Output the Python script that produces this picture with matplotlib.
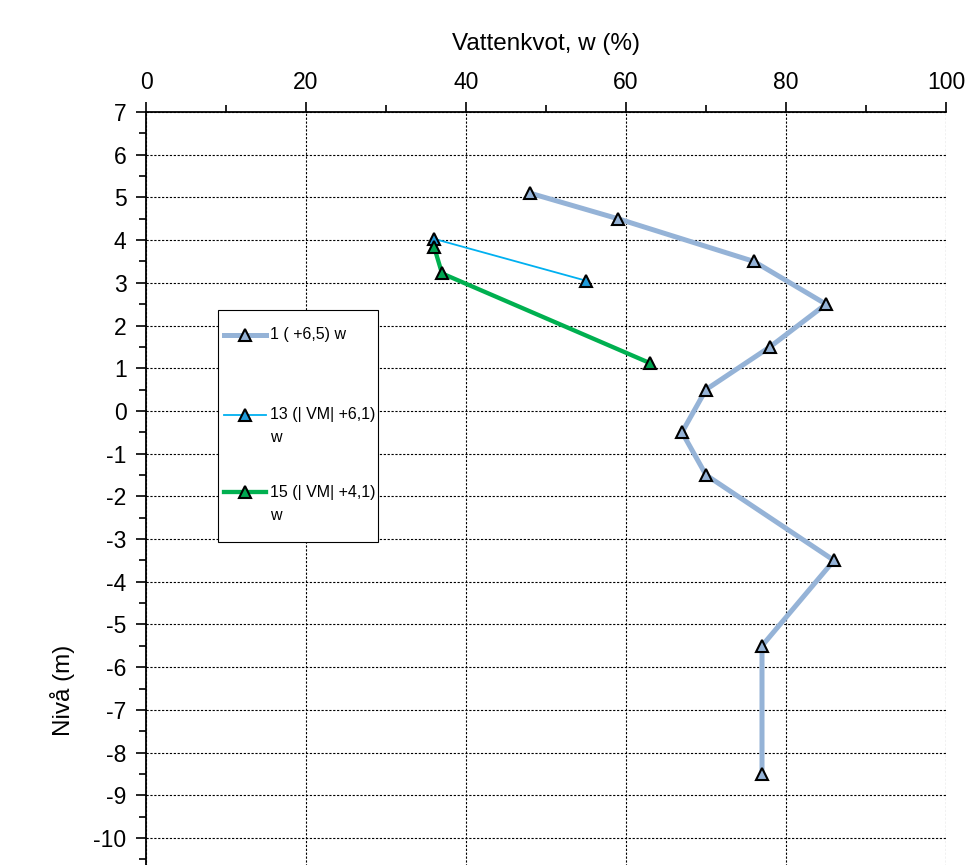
import matplotlib
matplotlib.use("Agg")
import matplotlib.pyplot as plt
from matplotlib.ticker import MultipleLocator
from matplotlib.lines import Line2D
from matplotlib.patches import Rectangle
from matplotlib import font_manager

plt.rcParams['font.family'] = ['Liberation Sans', 'DejaVu Sans']
plt.rcParams['axes.unicode_minus'] = False

# Data
s1_label = "1 ( +6,5) w"
s1_w = [48, 59, 76, 85, 78, 70, 67, 70, 86, 77, 77]
s1_z = [5.1, 4.5, 3.5, 2.5, 1.5, 0.5, -0.5, -1.5, -3.5, -5.5, -8.5]

s13_label = "13 (| VM| +6,1)\nw"
s13_w = [36, 55]
s13_z = [4.03, 3.05]

s15_label = "15 (| VM| +4,1)\nw"
s15_w = [36, 37, 63]
s15_z = [3.85, 3.22, 1.12]

x_ticks = [0, 20, 40, 60, 80, 100]
y_ticks = list(range(-10, 8))

names = {f.name for f in font_manager.fontManager.ttflist}
if 'Liberation Sans Narrow' in names:
    leg_font = dict(family=['Liberation Sans Narrow', 'DejaVu Sans'], size=13.5)
else:
    leg_font = dict(family=['Liberation Sans', 'DejaVu Sans'], size=11.5)

W, H = 980, 865
fig = plt.figure(figsize=(W/100, H/100), dpi=100)
top_px, bot_val, top_val = 112, -11.0, 7.0
ppu = (838 - 112) / 17.0
bottom_px = 112 + (top_val - bot_val) * ppu
ax = fig.add_axes([146/W, 1 - bottom_px/H, (946-146)/W, (bottom_px - top_px)/H])

series = [
    (s1_w, s1_z, s1_label, dict(color='#95B3D7', lw=3.6, mfc='#95B3D7')),
    (s13_w, s13_z, s13_label, dict(color='#00B0F0', lw=1.3, mfc='#1F9BDA')),
    (s15_w, s15_z, s15_label, dict(color='#00B050', lw=3.1, mfc='#00A651')),
]
for i, (xw, yz, lab, st) in enumerate(series):
    ax.plot(xw, yz, color=st['color'], lw=st['lw'], marker='^', ms=8,
            mfc=st['mfc'], mec='black', mew=1.5, zorder=3 + i)

ax.set_xlim(0, 100)
ax.set_ylim(bot_val, top_val)
ax.set_xticks(x_ticks)
ax.set_yticks(y_ticks)
ax.xaxis.set_minor_locator(MultipleLocator(10))
ax.yaxis.set_minor_locator(MultipleLocator(0.5))
ax.xaxis.tick_top()
ax.xaxis.set_label_position('top')
ax.spines['right'].set_visible(False)
ax.spines['bottom'].set_visible(False)
ax.spines['top'].set_linewidth(1.3)
ax.spines['left'].set_linewidth(1.3)
ax.tick_params(axis='x', which='major', length=7, width=1.2, labelsize=16.5, pad=6)
ax.tick_params(axis='x', which='minor', length=5, width=1.2)
ax.tick_params(axis='y', which='major', length=7, width=1.2, labelsize=16.5, pad=7)
ax.tick_params(axis='y', which='minor', length=5, width=1.2)
ax.grid(True, which='major', color='black', linestyle=(0, (2, 1.5)), linewidth=0.8)
ax.set_axisbelow(True)

ax.set_xlabel("Vattenkvot, w (%)", fontsize=17.5, labelpad=15)
ax.set_ylabel("Nivå (m)", fontsize=17.5)
ax.yaxis.set_label_coords(-0.089, 0.248)

# Legend drawn in figure pixel coordinates
def fx(px):
    return px / W

def fy(py):
    return 1 - py / H

fig.patches.append(Rectangle((fx(218), fy(542)), fx(378) - fx(218), fy(310) - fy(542),
                             transform=fig.transFigure, fill=True, facecolor='white',
                             edgecolor='black', linewidth=0.8, zorder=10))
rows = [335, 415, 492]
for (xw, yz, lab, st), ry in zip(series, rows):
    fig.lines.append(Line2D([fx(224), fx(266)], [fy(ry), fy(ry)], transform=fig.transFigure,
                            color=st['color'], lw=st['lw'], zorder=11))
    fig.lines.append(Line2D([fx(245)], [fy(ry)], transform=fig.transFigure, marker='^',
                            ms=8, mfc=st['mfc'], mec='black', mew=1.5, zorder=12))
    lines = lab.split("\n")
    fig.text(fx(270), fy(ry), lines[0], ha='left', va='center', zorder=12, **leg_font)
    if len(lines) > 1:
        fig.text(fx(270), fy(ry + 23), lines[1], ha='left', va='center', zorder=12, **leg_font)

fig.savefig("out.png", dpi=100)
